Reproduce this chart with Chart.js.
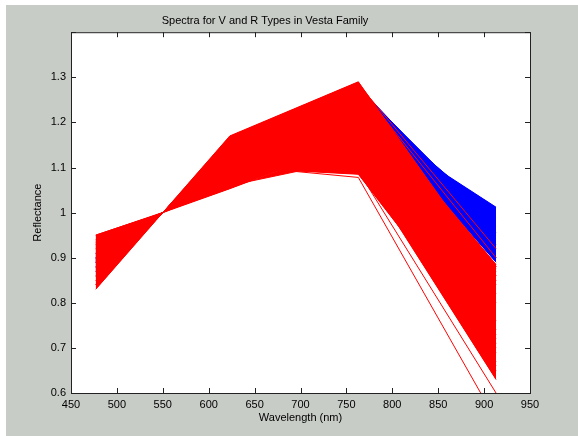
<!DOCTYPE html>
<html>
<head>
<meta charset="utf-8">
<script src="https://cdn.jsdelivr.net/npm/chart.js@4.4.0/dist/chart.umd.min.js"></script>
<style>
  html, body { margin: 0; padding: 0; background: #ffffff; }
  canvas { display: block; }
</style>
</head>
<body>
<canvas id="grafico" width="578" height="436"></canvas>
<script>
// wavelengths of the filters (nm), spectra normalised at 550 nm
var wavelengths = [477, 550, 623, 763, 913];
var normValue = 1;

// R types (red): reflectance at 477, 623, 763, 913 nm
var red477 = [0.95, 0.94, 0.92, 0.935, 0.91, 0.90, 0.89, 0.88, 0.87, 0.86, 0.85, 0.84, 0.83, 0.85, 0.88, 0.90, 0.92, 0.94, 0.95, 0.89, 0.91, 0.93, 0.86, 0.84];
var red623 = [1.06, 1.053, 1.09, 1.10, 1.09, 1.10, 1.11, 1.12, 1.12, 1.13, 1.14, 1.15, 1.17, 1.16, 1.14, 1.13, 1.12, 1.10, 1.08, 1.13, 1.11, 1.09, 1.16, 1.16];
var red763 = [1.12, 1.16, 1.11, 1.085, 1.17, 1.15, 1.19, 1.21, 1.18, 1.22, 1.24, 1.26, 1.29, 1.27, 1.25, 1.23, 1.20, 1.17, 1.13, 1.27, 1.21, 1.15, 1.22, 1.20];
var red913 = [0.70, 0.74, 0.63, 0.69, 0.66, 0.72, 0.80, 0.84, 0.82, 0.86, 0.88, 0.875, 0.86, 0.85, 0.885, 0.85, 0.88, 0.76, 0.67, 0.71, 0.73, 0.65, 0.87, 0.88];

// single R spectra standing apart (two crossing the V types, two falling below)
var odd477 = [0.87, 0.88, 0.93, 0.935];
var odd623 = [1.15, 1.16, 1.105, 1.10];
var odd763 = [1.28, 1.285, 1.078, 1.092];
var odd913 = [0.90, 0.92, 0.54, 0.60];

// V types (blue)
var blue477 = [0.90, 0.89, 0.91, 0.88, 0.87, 0.89, 0.90, 0.86];
var blue623 = [1.14, 1.15, 1.13, 1.15, 1.16, 1.14, 1.13, 1.16];
var blue763 = [1.28, 1.25, 1.21, 1.27, 1.26, 1.24, 1.23, 1.275];
var blue913 = [0.955, 0.99, 1.012, 0.93, 0.90, 0.89, 0.95, 0.97];

var xTicks = [450, 500, 550, 600, 650, 700, 750, 800, 850, 900, 950];

function espectro(g, r, i, z) {
    var vals = [g, normValue, r, i, z];
    return wavelengths.map(function (w, k) { return { x: w, y: vals[k] }; });
}

var datasets = [];
odd477.forEach(function (v, k) {
    datasets.push({
        data: espectro(v, odd623[k], odd763[k], odd913[k]),
        borderColor: "rgb(255,0,0)",
        backgroundColor: "rgb(255,0,0)",
        fill: false
    });
});
red477.forEach(function (v, k) {
    datasets.push({
        data: espectro(v, red623[k], red763[k], red913[k]),
        borderColor: "rgb(255,0,0)",
        backgroundColor: "rgb(255,0,0)",
        fill: k === 0 ? false : "-1"
    });
});
blue477.forEach(function (v, k) {
    datasets.push({
        data: espectro(v, blue623[k], blue763[k], blue913[k]),
        borderColor: "rgb(0,0,255)",
        backgroundColor: "rgb(0,0,255)",
        fill: k === 0 ? false : "-1"
    });
});

var fuente = { family: "'Liberation Sans', Arial, sans-serif", size: 11, weight: "normal" };

// gray figure, white axes, box and inward ticks like matlab
var marco = {
    id: "marco",
    beforeDraw: function (chart) {
        var ctx = chart.ctx, a = chart.chartArea;
        ctx.save();
        ctx.fillStyle = "#ffffff";
        ctx.fillRect(0, 0, chart.width, chart.height);
        ctx.fillStyle = "#c8ccc7";
        ctx.fillRect(6, 5, chart.width - 6, chart.height - 5);
        ctx.fillStyle = "#ffffff";
        ctx.fillRect(a.left, a.top, a.right - a.left, a.bottom - a.top);
        ctx.restore();
    },
    afterDraw: function (chart) {
        var ctx = chart.ctx, a = chart.chartArea;
        var xs = chart.scales.x, ys = chart.scales.y;
        ctx.save();
        ctx.strokeStyle = "#222222";
        ctx.lineWidth = 1;
        ctx.beginPath();
        xs.ticks.forEach(function (t) {
            var px = Math.round(xs.getPixelForValue(t.value)) + 0.5;
            ctx.moveTo(px, a.bottom); ctx.lineTo(px, a.bottom - 5);
            ctx.moveTo(px, a.top); ctx.lineTo(px, a.top + 5);
        });
        ys.ticks.forEach(function (t) {
            var py = Math.round(ys.getPixelForValue(t.value)) + 0.5;
            ctx.moveTo(a.left, py); ctx.lineTo(a.left + 5, py);
            ctx.moveTo(a.right, py); ctx.lineTo(a.right - 5, py);
        });
        ctx.stroke();
        ctx.strokeRect(a.left + 0.5, a.top + 0.5, a.right - a.left, a.bottom - a.top);
        ctx.restore();
    }
};

var ctx = document.getElementById("grafico").getContext("2d");
new Chart(ctx, {
    type: "line",
    data: { datasets: datasets },
    plugins: [marco],
    options: {
        responsive: false,
        animation: false,
        events: [],
        layout: { padding: { top: 0, right: 48, bottom: 0, left: 0 } },
        elements: {
            line: { borderWidth: 1, tension: 0 },
            point: { radius: 0 }
        },
        plugins: {
            legend: { display: false },
            tooltip: { enabled: false },
            title: {
                display: true,
                text: "Spectra for V and R Types in Vesta Family",
                color: "#000000",
                font: fuente,
                padding: { top: 14, bottom: 5 }
            }
        },
        scales: {
            x: {
                type: "linear",
                min: 450,
                max: 950,
                afterFit: function (s) { s.height = 43; },
                afterBuildTicks: function (s) {
                    s.ticks = xTicks.map(function (v) { return { value: v }; });
                },
                grid: { display: false, drawTicks: false },
                border: { display: false },
                ticks: { color: "#000000", font: fuente, padding: 5, maxRotation: 0, autoSkip: false },
                title: { display: true, text: "Wavelength (nm)", color: "#000000", font: fuente, padding: { top: 0, bottom: 11 } }
            },
            y: {
                min: 0.6,
                max: 1.4,
                afterFit: function (s) { s.width = 71; },
                grid: { display: false, drawTicks: false },
                border: { display: false },
                ticks: {
                    stepSize: 0.1,
                    color: "#000000",
                    font: fuente,
                    padding: 5,
                    callback: function (v) {
                        return v > 1.35 ? "" : String(Math.round(v * 10) / 10);
                    }
                },
                title: { display: true, text: "Reflectance", color: "#000000", font: fuente, padding: { top: 31, bottom: 0 } }
            }
        }
    }
});
</script>
</body>
</html>
